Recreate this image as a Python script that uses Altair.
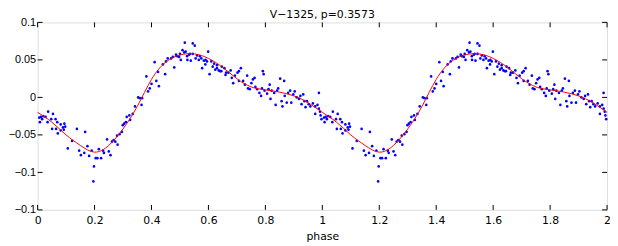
import altair as alt
import pandas as pd

# one period of folded observations (phase, value); plotted again at phase+1
phase = [0.006, 0.008, 0.012, 0.016, 0.020, 0.028, 0.035, 0.037, 0.048, 0.051,
         0.054, 0.063, 0.065, 0.069, 0.071, 0.081, 0.081, 0.089, 0.092, 0.094,
         0.097, 0.106, 0.121, 0.138, 0.146, 0.152, 0.164, 0.167, 0.175, 0.181,
         0.190, 0.196, 0.198, 0.204, 0.210, 0.215, 0.223, 0.230, 0.233, 0.244,
         0.250, 0.256, 0.261, 0.267, 0.273, 0.279, 0.281, 0.288, 0.296, 0.299,
         0.304, 0.310, 0.313, 0.322, 0.325, 0.334, 0.342, 0.353, 0.359, 0.365,
         0.367, 0.382, 0.388, 0.394, 0.400, 0.411, 0.417, 0.423, 0.426, 0.440,
         0.448, 0.451, 0.457, 0.469, 0.475, 0.480, 0.486, 0.490, 0.497, 0.500,
         0.503, 0.509, 0.515, 0.517, 0.520, 0.525, 0.526, 0.532, 0.535, 0.538,
         0.545, 0.545, 0.552, 0.555, 0.560, 0.566, 0.570, 0.575, 0.578, 0.584,
         0.589, 0.590, 0.595, 0.599, 0.604, 0.610, 0.615, 0.620, 0.624, 0.630,
         0.630, 0.636, 0.641, 0.645, 0.647, 0.656, 0.660, 0.662, 0.670, 0.678,
         0.682, 0.687, 0.693, 0.702, 0.707, 0.707, 0.714, 0.722, 0.728, 0.736,
         0.739, 0.745, 0.751, 0.756, 0.762, 0.765, 0.771, 0.779, 0.785, 0.788,
         0.791, 0.794, 0.797, 0.806, 0.811, 0.815, 0.818, 0.822, 0.831, 0.836,
         0.841, 0.845, 0.852, 0.857, 0.860, 0.866, 0.868, 0.875, 0.880, 0.887,
         0.891, 0.898, 0.903, 0.910, 0.918, 0.923, 0.927, 0.933, 0.937, 0.941,
         0.946, 0.952, 0.958, 0.967, 0.975, 0.975, 0.983, 0.988, 0.988, 0.992,
         0.994, 0.997]
value = [-0.027, -0.033, -0.026, -0.029, -0.025, -0.026, -0.033, -0.019, -0.029, -0.042,
         -0.022, -0.029, -0.042, -0.033, -0.048, -0.044, -0.036, -0.040, -0.043, -0.035,
         -0.039, -0.068, -0.058, -0.042, -0.071, -0.077, -0.074, -0.046, -0.065, -0.078,
         -0.071, -0.112, -0.092, -0.081, -0.081, -0.069, -0.081, -0.071, -0.074, -0.056,
         -0.072, -0.077, -0.059, -0.057, -0.059, -0.051, -0.063, -0.049, -0.046, -0.037,
         -0.035, -0.033, -0.026, -0.024, -0.030, -0.022, -0.012, 0.000, -0.001, -0.010,
         -0.001, 0.028, 0.008, 0.012, 0.018, 0.047, 0.022, 0.034, 0.015, 0.044,
         0.031, 0.048, 0.052, 0.052, 0.054, 0.040, 0.057, 0.055, 0.054, 0.058,
         0.050, 0.063, 0.060, 0.073, 0.061, 0.055, 0.050, 0.057, 0.058, 0.049,
         0.072, 0.058, 0.069, 0.052, 0.056, 0.050, 0.055, 0.052, 0.039, 0.049,
         0.044, 0.050, 0.048, 0.061, 0.031, 0.048, 0.041, 0.045, 0.037, 0.039,
         0.043, 0.036, 0.035, 0.035, 0.041, 0.039, 0.030, 0.033, 0.033, 0.036,
         0.026, 0.019, 0.029, 0.033, 0.035, 0.022, 0.039, 0.022, 0.017, 0.029,
         0.012, 0.011, 0.019, 0.024, 0.026, 0.014, 0.011, 0.006, 0.002, 0.012,
         0.035, 0.031, 0.009, 0.005, 0.011, 0.017, -0.002, 0.009, 0.006, -0.010,
         0.009, 0.012, 0.025, -0.005, -0.012, 0.022, 0.002, -0.007, 0.006, 0.009,
         -0.007, 0.004, 0.008, 0.000, -0.002, 0.002, -0.009, 0.004, -0.005, -0.013,
         -0.005, -0.009, -0.012, -0.008, -0.022, -0.012, -0.010, -0.015, 0.006, -0.019,
         -0.024, -0.029]

# fitted curve read at phase steps of 0.05 over one period
curve_phase = [0.0, 0.05, 0.1, 0.15, 0.2, 0.25, 0.3, 0.35, 0.4, 0.45, 0.5,
               0.55, 0.6, 0.65, 0.7, 0.75, 0.8, 0.85, 0.9, 0.95]
curve_value = [-0.020, -0.033, -0.050, -0.064, -0.073, -0.064, -0.042, -0.012, 0.024, 0.047, 0.0565,
               0.058, 0.052, 0.040, 0.025, 0.014, 0.010, 0.007, 0.002, -0.007]
curve_end = [2.0, -0.020]

x_ticks = [0, 0.2, 0.4, 0.6, 0.8, 1, 1.2, 1.4, 1.6, 1.8, 2]
y_ticks = [-0.15, -0.1, -0.05, 0, 0.05, 0.1]

W, H = 577, 190
FONT = "DejaVu Sans"
YFONT = "Liberation Sans"

pts = pd.DataFrame({"phase": phase + [p + 1 for p in phase], "val": value + value})
crv = pd.DataFrame({"phase": curve_phase + [p + 1 for p in curve_phase] + [curve_end[0]],
                    "val": curve_value + curve_value + [curve_end[1]]})
xt = pd.DataFrame({"phase": x_ticks})
yt = pd.DataFrame({"val": y_ticks})

x_enc = alt.X("phase:Q", scale=alt.Scale(domain=[0, 2], nice=False, zero=False),
              axis=alt.Axis(values=x_ticks, format="~g", tickSize=0, labelPadding=5,
                            labelFont=FONT, labelFontSize=11,
                            title="phase", titlePadding=5, titleFont=FONT,
                            titleFontSize=11, titleFontWeight="normal",
                            grid=False, domain=False,
                            labelFlush=False, labelOverlap=False))
y_enc = alt.Y("val:Q", scale=alt.Scale(domain=[-0.15, 0.1], nice=False, zero=False),
              axis=alt.Axis(values=y_ticks, format="~g", tickSize=0, labelPadding=2,
                            labelFont=YFONT, labelFontSize=11,
                            title=None, grid=False, domain=False,
                            labelFlush=False, labelOverlap=False))

points = alt.Chart(pts).mark_circle(color="#0000ff", size=7, opacity=1).encode(x=x_enc, y=y_enc)
line = alt.Chart(crv).mark_line(color="#ff0000", strokeWidth=1, interpolate="natural").encode(x=x_enc, y=y_enc)

tick_b = alt.Chart(xt).mark_rule(color="black", strokeWidth=1).encode(
    x=x_enc, y=alt.value(H), y2=alt.value(H - 5))
tick_t = alt.Chart(xt).mark_rule(color="black", strokeWidth=1).encode(
    x=x_enc, y=alt.value(0), y2=alt.value(5))
tick_l = alt.Chart(yt).mark_rule(color="black", strokeWidth=1).encode(
    y=y_enc, x=alt.value(0), x2=alt.value(5))
tick_r = alt.Chart(yt).mark_rule(color="black", strokeWidth=1).encode(
    y=y_enc, x=alt.value(W), x2=alt.value(W - 5))

chart = alt.layer(points, line, tick_b, tick_t, tick_l, tick_r).properties(
    width=W, height=H,
    title=alt.TitleParams("V−1325, p=0.3573", fontSize=11, font=FONT, fontWeight="normal",
                          color="black", offset=-4, anchor="middle"),
    autosize=alt.AutoSizeParams(type="none"),
    padding={"left": 30, "top": 13, "right": 3, "bottom": 35},
).configure_view(stroke="black", strokeWidth=1).configure_axis(
    labelColor="black", titleColor="black",
).configure(background="white")

chart.save("out.html", embed_options={"renderer": "svg", "actions": False})
